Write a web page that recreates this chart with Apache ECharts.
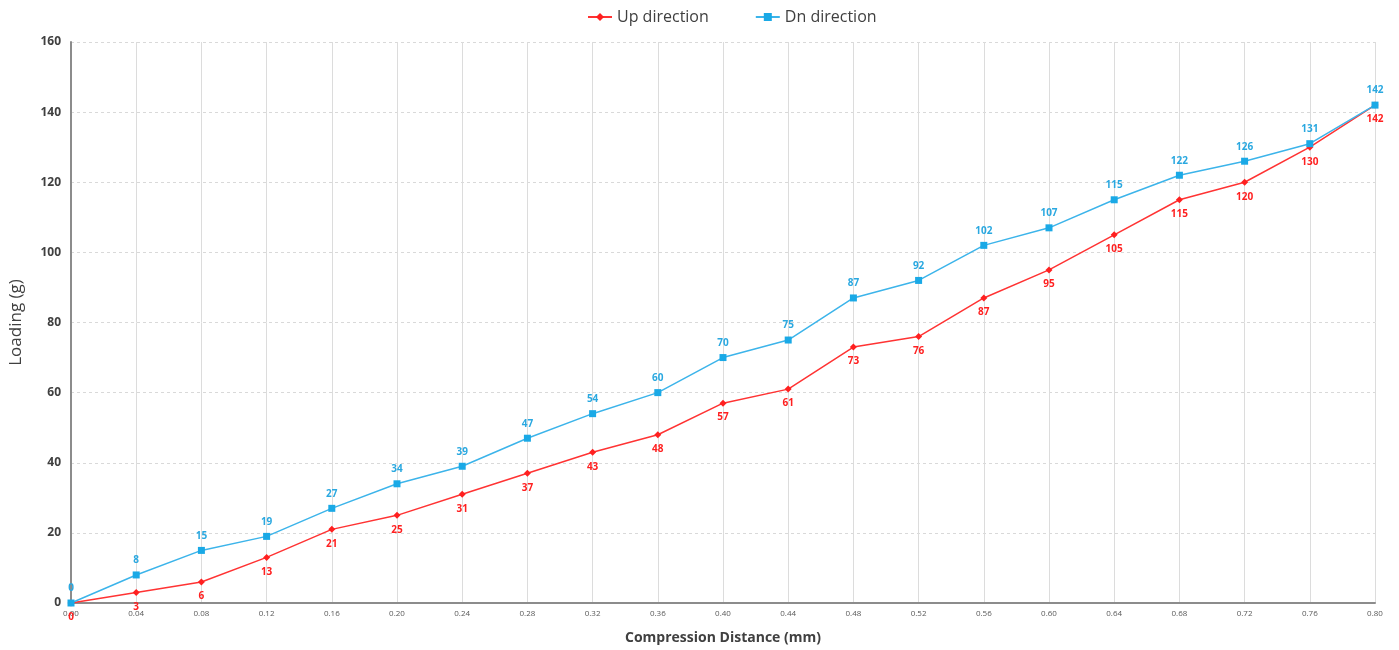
<!DOCTYPE html>
<html><head><meta charset="utf-8">
<script src="https://cdn.jsdelivr.net/npm/echarts@6/dist/echarts.min.js"></script>
<style>html,body{margin:0;padding:0;background:#fff}#c{width:1399px;height:650px}</style>
</head><body><div id="c"></div>
<script>
var categories = ['0.00','0.04','0.08','0.12','0.16','0.20','0.24','0.28','0.32','0.36','0.40','0.44','0.48','0.52','0.56','0.60','0.64','0.68','0.72','0.76','0.80'];
var upValues = [0,3,6,13,21,25,31,37,43,48,57,61,73,76,87,95,105,115,120,130,142];
var dnValues = [0,8,15,19,27,34,39,47,54,60,70,75,87,92,102,107,115,122,126,131,142];
var yTicks = [0,20,40,60,80,100,120,140,160];

var chart = echarts.init(document.getElementById('c'));
chart.setOption({
  animation: false,
  textStyle: {fontFamily: 'Open Sans, sans-serif'},
  legend: {
    top: 4, left: 582, itemGap: 46, itemWidth: 24, itemHeight: 10,
    textStyle: {fontSize: 16, color: '#404040'},
    data: ['Up direction', 'Dn direction']
  },
  grid: {left: 61, right: 24, top: 42, bottom: 37, containLabel: false},
  xAxis: {
    type: 'category', data: categories, boundaryGap: false,
    name: 'Compression Distance (mm)', nameLocation: 'middle', nameGap: 28,
    nameTextStyle: {fontSize: 14, fontWeight: 'bold', color: '#404040'},
    axisLine: {lineStyle: {color: '#8c8c8c', width: 2}},
    axisTick: {show: false},
    axisLabel: {fontSize: 8, color: '#595959', margin: 7},
    splitLine: {show: true, lineStyle: {color: '#dcdcdc', width: 1}}
  },
  yAxis: {
    type: 'value', min: yTicks[0], max: yTicks[yTicks.length-1], interval: 20,
    name: 'Loading (g)', nameLocation: 'middle', nameGap: 46,
    nameTextStyle: {fontSize: 17, color: '#404040'},
    axisLine: {show: true, lineStyle: {color: '#8c8c8c', width: 2}},
    axisTick: {show: false},
    axisLabel: {fontSize: 12, fontWeight: 'bold', color: '#404040', margin: 10},
    splitLine: {show: true, lineStyle: {color: '#d9d9d9', type: [3,3], width: 1}}
  },
  series: [
    {
      name: 'Up direction', type: 'line', data: upValues,
      symbol: 'diamond', symbolSize: 7,
      lineStyle: {color: '#ff3333', width: 1.5},
      itemStyle: {color: '#ff2020'},
      label: {show: true, position: 'bottom', distance: 6, color: '#ff2020', fontSize: 10, fontWeight: 'bold'},
      z: 2
    },
    {
      name: 'Dn direction', type: 'line', data: dnValues,
      symbol: 'rect', symbolSize: 7,
      lineStyle: {color: '#3cb4ea', width: 1.5},
      itemStyle: {color: '#1aa9e6'},
      label: {show: true, position: 'top', distance: 6, color: '#2aa8e0', fontSize: 10, fontWeight: 'bold'},
      z: 3
    }
  ]
});
</script></body></html>
